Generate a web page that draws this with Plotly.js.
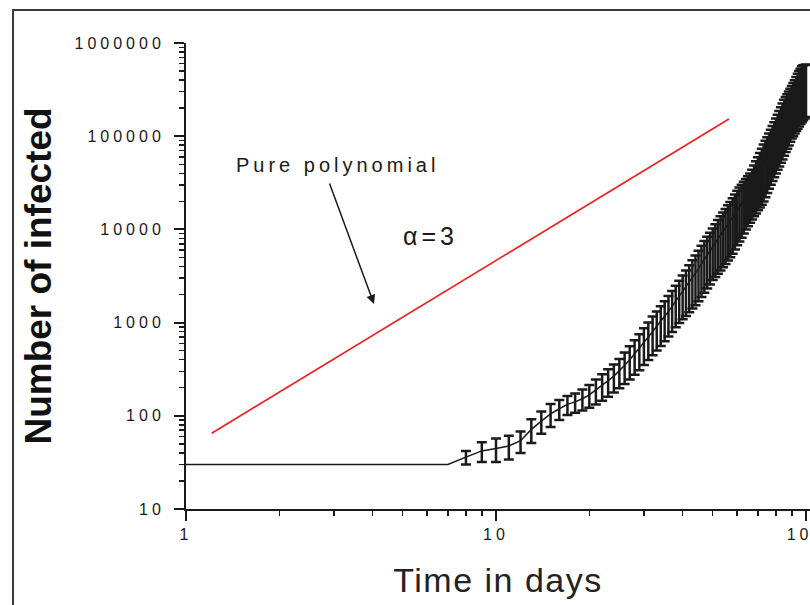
<!DOCTYPE html>
<html>
<head>
<meta charset="utf-8">
<script src="https://cdn.plot.ly/plotly-3.0.1.min.js"></script>
<style>
  html, body { margin: 0; padding: 0; background: #ffffff; }
  #chart { width: 810px; height: 605px; }
  .xtick text, .ytick text { letter-spacing: 4px; }
  .annotation-text { letter-spacing: 4px; }
  .g-xtitle text { letter-spacing: 1.5px; }
</style>
</head>
<body>
<div id="chart"></div>
<script>
// Simulation: time (days)
const days = [1,2,3,4,5,6,7,8,9,10,11,12,13,14,15,16,17,18,19,20,
  21,22,23,24,25,26,27,28,29,30,31,32,33,34,35,36,37,38,39,40,
  41,42,43,44,45,46,47,48,49,50,51,52,53,54,55,56,57,58,59,60,
  61,62,63,64,65,66,67,68,69,70,71,72,73,74,75,76,77,78,79,80,
  81,82,83,84,85,86,87,88,89,90,91,92,93,94,95,96,97,98,99,100];

// Top of each error bar (number of infected)
const upperInfected = [30,30,30,30,30,30,30,42,52,57,61,68,92,111,134,148,163,174,191,214,
  245,279,316,355,407,479,556,646,750,871,1000,1161,1318,1496,1698,1928,2188,2483,2818,3199,
  3631,4121,4677,5248,5888,6683,7499,8318,9226,10230,11350,12590,13800,15140,16600,18200,19720,21630,23710,26000,
  28180,30200,32360,34670,37150,39810,43650,48420,53700,59570,66070,73280,81280,89130,97720,107200,117500,128800,141300,154900,
  169800,186200,204200,223900,245500,263000,281800,302000,323600,346700,371500,398100,431500,467700,501200,530900,562300,575400,582100,588800];

// Bottom of each error bar (number of infected)
const lowerInfected = [30,30,30,30,30,30,30,30,32,32,34,40,51,64,76,90,102,108,114,122,
  132,145,160,178,197,219,245,275,309,351,398,447,501,562,631,708,794,891,990,1084,
  1175,1288,1413,1535,1698,1884,2089,2317,2570,2864,3090,3350,3630,3936,4266,4624,5012,5495,6095,6761,
  7413,8128,9016,10000,10840,11750,12740,13800,14790,16030,17180,18410,19950,22130,24550,27230,30200,33110,36310,39810,
  43650,47320,51880,56230,61660,67610,73280,79430,87100,94410,100000,107200,113500,120200,127400,134900,141300,147900,154900,160700];

// Pure polynomial reference line (alpha = 3)
const polyDays = [1.21, 56.4];
const polyInfected = [65, 153000];

// Tick labels
const xTickVals = [1, 10, 100];
const xTickText = ['1', '10', '100'];
const yTickVals = [10, 100, 1000, 10000, 100000, 1000000];
const yTickText = ['10', '100', '1000', '10000', '100000', '1000000'];

const meanInfected = days.map((d, i) => (upperInfected[i] + lowerInfected[i]) / 2);
// first index where the runs start to differ (error bars appear)
const firstSpread = upperInfected.findIndex((u, i) => u !== lowerInfected[i]);

const ink = '#1a1a1a';
const tickFont = { family: 'Liberation Sans, Arial, sans-serif', size: 16, color: ink };

const flatDays = days.slice(0, firstSpread + 1);
const flatMean = meanInfected.slice(0, firstSpread + 1);
const spreadDays = days.slice(firstSpread);
const spreadMean = meanInfected.slice(firstSpread);
const errPlus = spreadDays.map((d, k) => upperInfected[firstSpread + k] - spreadMean[k]);
const errMinus = spreadDays.map((d, k) => spreadMean[k] - lowerInfected[firstSpread + k]);

const traces = [
  {
    x: flatDays, y: flatMean, type: 'scatter', mode: 'lines',
    line: { color: ink, width: 1.5 },
    hoverinfo: 'skip', showlegend: false
  },
  {
    x: spreadDays, y: spreadMean, type: 'scatter', mode: 'lines',
    line: { color: ink, width: 1.5 },
    error_y: { type: 'data', array: errPlus, arrayminus: errMinus, visible: true,
               color: ink, thickness: 2.5, width: 5 },
    hoverinfo: 'skip', showlegend: false
  },
  {
    x: polyDays, y: polyInfected, type: 'scatter', mode: 'lines',
    line: { color: '#f02020', width: 1.6 },
    hoverinfo: 'skip', showlegend: false
  }
];

const layout = {
  width: 810, height: 605,
  margin: { l: 186, r: 0, t: 43, b: 96, pad: 0 },
  paper_bgcolor: '#ffffff', plot_bgcolor: '#ffffff',
  showlegend: false,
  xaxis: {
    type: 'log', range: [0, 2.0129], autorange: false,
    tickmode: 'array', tickvals: xTickVals, ticktext: xTickText,
    ticks: 'outside', ticklen: 10, tickwidth: 2, tickcolor: ink,
    minor: { ticks: 'outside', ticklen: 5, tickwidth: 1.5, tickcolor: ink, dtick: 'D1', showgrid: false },
    showline: true, linecolor: ink, linewidth: 2,
    showgrid: false, zeroline: false, mirror: false,
    tickfont: tickFont, ticklabeloverflow: 'allow',
    title: { text: 'Time in days', font: { family: 'Liberation Sans, Arial, sans-serif', size: 34, color: '#222' }, standoff: 26 }
  },
  yaxis: {
    type: 'log', range: [1, 6], autorange: false,
    tickmode: 'array', tickvals: yTickVals, ticktext: yTickText,
    ticks: 'outside', ticklen: 10, tickwidth: 2, tickcolor: ink,
    minor: { ticks: 'outside', ticklen: 5, tickwidth: 1.5, tickcolor: ink, dtick: 'D1', showgrid: false },
    showline: true, linecolor: ink, linewidth: 2,
    showgrid: false, zeroline: false, mirror: false,
    tickfont: tickFont, ticklabeloverflow: 'allow', ticklabelstandoff: 6,
    title: { text: 'Number of infected', font: { family: 'Liberation Sans, Arial, sans-serif', size: 37, color: '#111', weight: 'bold' }, standoff: 12 }
  },
  annotations: [
    { x: Math.log10(3.07), y: Math.log10(49100), xref: 'x', yref: 'y', text: 'Pure polynomial',
      showarrow: false, font: { family: 'Liberation Sans, Arial, sans-serif', size: 20, color: ink },
      xanchor: 'center', yanchor: 'middle' },
    { x: Math.log10(6.17), y: Math.log10(8490), xref: 'x', yref: 'y', text: 'α=3',
      showarrow: false, font: { family: 'Liberation Sans, Arial, sans-serif', size: 25, color: ink },
      xanchor: 'center', yanchor: 'middle' },
    { x: Math.log10(4.04), y: Math.log10(1583), xref: 'x', yref: 'y', text: '',
      showarrow: true, arrowhead: 2, arrowsize: 1.2, arrowwidth: 1.5, arrowcolor: ink,
      ax: -45, ay: -122, axref: 'pixel', ayref: 'pixel' }
  ],
  shapes: [
    { type: 'rect', xref: 'paper', yref: 'paper', x0: -0.2772, x1: 1.5, y0: -0.5, y1: 1.0708,
      line: { color: '#3a3a3a', width: 2 }, fillcolor: 'rgba(0,0,0,0)', layer: 'above' }
  ]
};

Plotly.newPlot('chart', traces, layout, { displayModeBar: false, staticPlot: true });
</script>
</body>
</html>
